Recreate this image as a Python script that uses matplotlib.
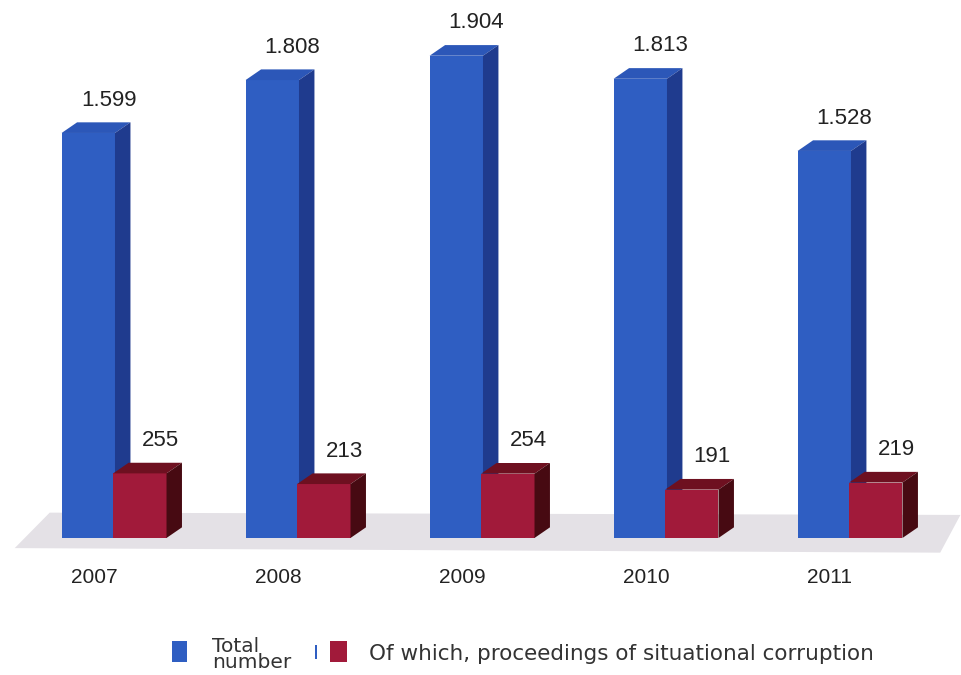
import matplotlib.pyplot as plt
import numpy as np
from matplotlib.patches import Polygon, Rectangle

years = ["2007", "2008", "2009", "2010", "2011"]
total = [1599, 1808, 1904, 1813, 1528]
situational = [255, 213, 254, 191, 219]

# colours: front, top, side
blue = ("#2f5ec2", "#2c57b8", "#1f3b8e")
red = ("#a11a3a", "#6e1020", "#470a12")

plt.rcParams["font.family"] = ["Liberation Sans", "DejaVu Sans"]

fig = plt.figure(figsize=(9.61, 6.75), dpi=100)
ax = fig.add_axes([0, 0, 1, 1])
ax.set_xlim(-0.62, 4.603)
ax.set_ylim(-541, 2124)
ax.axis("off")

# depth of the pseudo-3D faces (x in category units, y in value units)
dx, dy = 0.084, 42
width = 0.29
offset = 0.14

# floor
ax.add_patch(Polygon([(-0.54, -40), (4.49, -58), (4.6, 91), (-0.35, 100)],
                     closed=True, facecolor="#e4e1e6", edgecolor="none", zorder=0))


def box(x, h, cols, z):
    left, right = x - width / 2, x + width / 2
    ax.bar(x, h, width=width, color=cols[0], zorder=z)
    ax.add_patch(Polygon([(left, h), (left + dx, h + dy), (right + dx, h + dy), (right, h)],
                         closed=True, facecolor=cols[1], edgecolor="none", zorder=z))
    ax.add_patch(Polygon([(right, 0), (right + dx, dy), (right + dx, h + dy), (right, h)],
                         closed=True, facecolor=cols[2], edgecolor="none", zorder=z))


def fmt(v):
    return f"{v:,}".replace(",", ".")


xs = np.arange(len(years))
for i, x in enumerate(xs):
    box(x - offset, total[i], blue, 2)
    box(x + offset, situational[i], red, 3)
    ax.text(x - offset + 0.11, total[i] + 130, fmt(total[i]), ha="center", va="center",
            fontsize=16, color="#222222")
    ax.text(x + offset + 0.11, situational[i] + 130, fmt(situational[i]), ha="center",
            va="center", fontsize=16, color="#222222")
    ax.text(x - 0.11, -158, years[i], ha="center", va="center", fontsize=15, color="#222222")

# legend
fig.patches.append(Rectangle((172 / 961, 1 - 662 / 675), 15 / 961, 21 / 675,
                             transform=fig.transFigure, facecolor=blue[0], edgecolor="none"))
fig.text(212 / 961, 1 - 655 / 675, "Total\nnumber", ha="left", va="center", fontsize=14.5,
         color="#333333", family="DejaVu Sans", linespacing=0.8)
fig.patches.append(Rectangle((315 / 961, 1 - 659 / 675), 2 / 961, 14 / 675,
                             transform=fig.transFigure, facecolor=blue[0], edgecolor="none"))
fig.patches.append(Rectangle((330 / 961, 1 - 662 / 675), 17 / 961, 21 / 675,
                             transform=fig.transFigure, facecolor=red[0], edgecolor="none"))
fig.text(369 / 961, 1 - 654 / 675, "Of which, proceedings of situational corruption",
         ha="left", va="center", fontsize=15.5, color="#333333", family="DejaVu Sans")

fig.savefig("out.png", dpi=100)
